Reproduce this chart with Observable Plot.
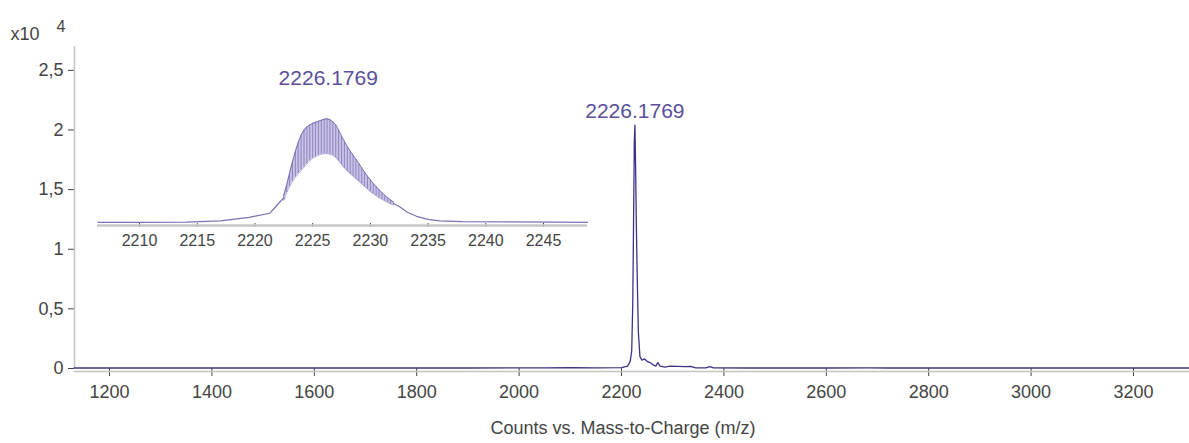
<!DOCTYPE html>
<html>
<head>
<meta charset="utf-8">
<script src="https://cdn.jsdelivr.net/npm/d3@7"></script>
<script src="https://cdn.jsdelivr.net/npm/@observablehq/plot@0.6"></script>
<style>
  html, body { margin: 0; padding: 0; background: #fff; }
  #wrap { position: relative; width: 1189px; height: 443px; font-family: "Liberation Sans", Arial, sans-serif; }
  #inset { position: absolute; left: 0; top: 0; }
</style>
</head>
<body>
<div id="wrap"><div id="main"></div><div id="inset"></div></div>
<script>
// ---- data (counts in units of x10^4) ----
const mainMz = [1131, 1300, 1500, 1700, 1900, 2050, 2100, 2150, 2200, 2212, 2217, 2220, 2222, 2223.5, 2225, 2226.2, 2227.5, 2229, 2231, 2233, 2236, 2240, 2245, 2250, 2256, 2262, 2267, 2271, 2275, 2285, 2295, 2310, 2325, 2335, 2345, 2365, 2372, 2380, 2450, 2600, 2680, 2720, 2900, 3100, 3309];
const mainCounts = [0.004, 0.004, 0.004, 0.004, 0.004, 0.005, 0.008, 0.005, 0.008, 0.02, 0.06, 0.15, 0.55, 1.2, 1.9, 2.04, 1.7, 1.2, 0.7, 0.3, 0.1, 0.07, 0.08, 0.06, 0.05, 0.03, 0.02, 0.05, 0.02, 0.012, 0.02, 0.018, 0.015, 0.018, 0.006, 0.006, 0.015, 0.005, 0.004, 0.004, 0.006, 0.004, 0.004, 0.004, 0.004];

// inset: smooth profile left and right of the isotope band
const insetLeftMz = [2206.4, 2210, 2214, 2217, 2219.5, 2221.3, 2222.0, 2222.5];
const insetLeftCounts = [0.02, 0.02, 0.025, 0.05, 0.12, 0.2, 0.38, 0.5];
const insetRightMz = [2232.0, 2232.5, 2233.2, 2234, 2235, 2236, 2238, 2242, 2246, 2248.8];
const insetRightCounts = [0.39, 0.33, 0.22, 0.14, 0.08, 0.05, 0.035, 0.03, 0.025, 0.02];
// isotope band: upper and lower envelope
const bandMz = [2222.5, 2222.75, 2223.0, 2223.25, 2223.5, 2223.75, 2224.0, 2224.25, 2224.5, 2224.75,
  2225.0, 2225.25, 2225.5, 2225.75, 2226.0, 2226.25, 2226.5, 2226.75, 2227.0, 2227.25,
  2227.5, 2227.75, 2228.0, 2228.25, 2228.5, 2228.75, 2229.0, 2229.25, 2229.5, 2229.75,
  2230.0, 2230.25, 2230.5, 2230.75, 2231.0, 2231.25, 2231.5, 2231.75, 2232.0];
const bandUpper = [0.55, 0.75, 0.98, 1.2, 1.4, 1.58, 1.72, 1.82, 1.88, 1.92,
  1.95, 1.97, 1.99, 2.01, 2.03, 2.04, 2.02, 1.98, 1.92, 1.82,
  1.7, 1.6, 1.5, 1.41, 1.33, 1.25, 1.17, 1.08, 1.0, 0.92,
  0.85, 0.78, 0.72, 0.66, 0.6, 0.55, 0.5, 0.46, 0.42];
const bandLower = [0.45, 0.6, 0.72, 0.82, 0.9, 0.97, 1.03, 1.1, 1.16, 1.22,
  1.27, 1.3, 1.33, 1.35, 1.36, 1.36, 1.35, 1.33, 1.29, 1.22,
  1.15, 1.08, 1.02, 0.97, 0.92, 0.87, 0.82, 0.77, 0.72, 0.67,
  0.62, 0.58, 0.54, 0.5, 0.47, 0.44, 0.41, 0.38, 0.36];

const peakMz = [2226.1769];
const peakCount = [2.04];
const peakLabel = ["2226.1769"];

const xTicks = [1200, 1400, 1600, 1800, 2000, 2200, 2400, 2600, 2800, 3000, 3200];
const yTicks = [0, 0.5, 1, 1.5, 2, 2.5];
const insetTicks = [2210, 2215, 2220, 2225, 2230, 2235, 2240, 2245];
const xDomain = [1131.6, 3309.4];
const yDomain = [0, 2.7];
const insetXDomain = [2206.36, 2248.81];
const insetYDomain = [0, 2.2];
const xTitle = "Counts vs. Mass-to-Charge (m/z)";
const yScaleText = "x10";
const yScaleExp = "4";

const mainData = mainMz.map((m, i) => ({mz: m, c: mainCounts[i]}));
const leftData = insetLeftMz.map((m, i) => ({mz: m, c: insetLeftCounts[i]}));
const rightData = insetRightMz.map((m, i) => ({mz: m, c: insetRightCounts[i]}));
const band = bandMz.map((m, i) => ({mz: m, lo: bandLower[i], hi: bandUpper[i]}));
const peaks = peakMz.map((m, i) => ({mz: m, c: peakCount[i], label: peakLabel[i]}));

const FONT = '"Liberation Sans", Arial, sans-serif';
const PURPLE = "#5a4f9b";
const INSET = "#7b70b6";

const main = Plot.plot({
  width: 1189, height: 443,
  marginLeft: 74, marginRight: 0, marginTop: 46, marginBottom: 75,
  style: {fontFamily: FONT, fontSize: "18px", color: "#444", background: "transparent"},
  x: {domain: xDomain, ticks: xTicks, tickSize: 8, tickPadding: 9, tickFormat: d => String(d), label: null},
  y: {domain: yDomain, ticks: yTicks, tickSize: 6, tickPadding: 5, tickFormat: d => String(d).replace(".", ","), label: null},
  marks: [
    Plot.ruleX([xDomain[0]], {stroke: "#c4c4c4", strokeWidth: 1.5}),
    Plot.ruleY([0], {dy: 3, stroke: "#c4c4c4", strokeWidth: 1.5}),
    Plot.line(mainData, {x: "mz", y: "c", stroke: "#3b3486", strokeWidth: 1.3}),
    Plot.text(peaks, {x: "mz", y: "c", text: "label", dy: -14, fill: PURPLE, fontSize: 21}),
    Plot.text([xTitle], {frameAnchor: "bottom", text: d => d, dx: -9, dy: 65, fill: "#444", fontSize: 18}),
    Plot.text([yScaleText], {frameAnchor: "top-left", text: d => d, textAnchor: "start", dx: -64, dy: -19, fill: "#444", fontSize: 18}),
    Plot.text([yScaleExp], {frameAnchor: "top-left", text: d => d, textAnchor: "start", dx: -18, dy: -26, fill: "#444", fontSize: 16})
  ]
});
document.getElementById("main").appendChild(main);

const inset = Plot.plot({
  width: 600, height: 260,
  marginLeft: 97, marginRight: 13, marginTop: 110, marginBottom: 37,
  style: {fontFamily: FONT, fontSize: "16px", color: "#444", background: "transparent"},
  x: {domain: insetXDomain, ticks: insetTicks, tickSize: 4, tickPadding: 7, tickFormat: d => String(d), label: null},
  y: {domain: insetYDomain, axis: null},
  marks: [
    Plot.ruleY([0], {dy: 2, stroke: "#c8c8c8", strokeWidth: 2.5}),
    Plot.areaY(band, {x: "mz", y1: "lo", y2: "hi", fill: "#b8afdc", fillOpacity: 0.75}),
    Plot.ruleX(band, {x: "mz", y1: "lo", y2: "hi", stroke: INSET, strokeWidth: 0.9, strokeOpacity: 0.85}),
    Plot.line(band, {x: "mz", y: "hi", stroke: INSET, strokeWidth: 1}),
    Plot.line(band, {x: "mz", y: "lo", stroke: INSET, strokeWidth: 1, strokeOpacity: 0.55}),
    Plot.line(leftData, {x: "mz", y: "c", stroke: INSET, strokeWidth: 1.2}),
    Plot.line(rightData, {x: "mz", y: "c", stroke: INSET, strokeWidth: 1.2}),
    Plot.text(peaks, {x: "mz", y: "c", text: "label", dx: 2, dy: -40, fill: PURPLE, fontSize: 21})
  ]
});
document.getElementById("inset").appendChild(inset);
</script>
</body>
</html>
